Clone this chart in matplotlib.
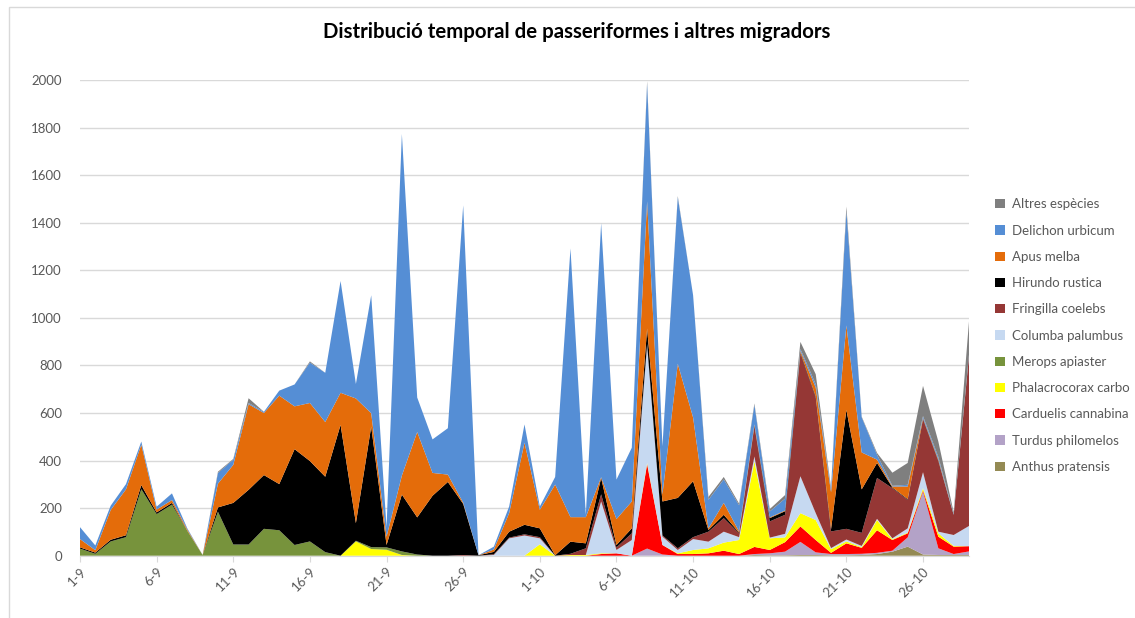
import numpy as np
import matplotlib
matplotlib.use("Agg")
import matplotlib.pyplot as plt
from matplotlib.patches import Patch, Rectangle

plt.rcParams["font.family"] = ["Lato", "DejaVu Sans"]

# dates 1-9 .. 29-10
dates = [f"{d}-9" for d in range(1, 31)] + [f"{d}-10" for d in range(1, 30)]

# bottom of the stack first
anthus = [0] * 44 + [3, 2, 2, 3, 3, 2, 2, 3, 7, 17, 38, 5, 3, 3, 3]
turdus = [0] * 37 + [30, 5, 0, 0, 0, 0, 0, 4, 8, 15, 55, 11, 5, 5, 5, 5, 4, 39, 265, 28, 4, 15]
carduelis = [0] * 34 + [7, 10, 0, 355, 40, 7, 7, 10, 21, 7, 30, 14, 40, 65, 52, 5, 45, 25, 95, 45, 17, 5, 49, 31, 22]
phalacrocorax = ([0] * 18 + [60, 28, 25, 3] + [0] * 8 +
                 [48, 0, 3, 3, 3, 0, 0, 5, 0, 3, 17, 21, 34, 59, 360, 49, 20, 56, 84, 15, 8, 3, 43, 3, 3, 9, 14, 3, 0])
merops = ([30, 8, 60, 78, 280, 175, 215, 105, 3, 185, 47, 47, 113, 107, 45, 60, 15, 0, 3, 8, 10, 15, 5] +
          [0] * 36)
columba = ([0] * 27 +
           [3, 73, 85, 25, 0, 0, 0, 218, 14, 66, 495, 35, 14, 46, 28, 46, 12, 20, 3, 15, 155, 29, 5, 8, 5, 5, 4, 18, 67, 7, 46, 85])
fringilla = ([0] * 25 +
             [3, 0, 3, 3, 5, 5, 0, 5, 28, 30, 11, 28, 5, 5, 7, 8, 42, 57, 16, 127, 68, 80, 515, 486, 70, 45, 55, 172, 211, 120, 222, 296, 85, 715])
hirundo = [5, 5, 7, 8, 17, 7, 7, 0, 0, 18, 175, 230, 226, 194, 403, 338, 317, 550, 74, 507, 10, 239, 156, 252, 310, 215,
           2, 10, 25, 40, 37, 2, 51, 21, 69, 10, 21, 65, 143, 212, 235, 7, 14, 3, 3, 14, 15, 5, 5, 10, 500, 183, 63, 3, 3, 3, 3, 0, 0]
apus = [35, 10, 125, 193, 170, 12, 12, 5, 0, 100, 160, 360, 261, 372, 180, 244, 230, 135, 524, 56, 35, 80, 359, 96, 31, 5,
        0, 10, 78, 345, 78, 297, 103, 110, 3, 109, 113, 535, 30, 564, 268, 7, 50, 5, 5, 3, 3, 7, 37, 155, 355, 155, 14, 4, 53, 3, 5, 0, 0]
delichon = [50, 20, 18, 22, 13, 12, 28, 5, 0, 45, 22, 5, 5, 21, 92, 170, 207, 470, 61, 496, 40, 1436, 145, 141, 195, 1250,
            0, 12, 28, 77, 14, 32, 1130, 10, 1068, 166, 226, 495, 202, 700, 514, 120, 99, 110, 82, 25, 50, 8, 14, 15, 480, 148, 21, 3, 7, 8, 10, 3, 5]
altres = ([0] * 9 + [5, 3, 20, 0, 0, 0, 5] + [0] * 21 +
          [10, 0, 5, 0, 12, 10, 7, 6, 10, 15, 30, 42, 5, 20, 3, 7, 55, 92, 127, 65, 7, 140])

names = ["Anthus pratensis", "Turdus philomelos", "Carduelis cannabina", "Phalacrocorax carbo",
         "Merops apiaster", "Columba palumbus", "Fringilla coelebs", "Hirundo rustica",
         "Apus melba", "Delichon urbicum", "Altres espècies"]
series = [anthus, turdus, carduelis, phalacrocorax, merops, columba, fringilla, hirundo, apus, delichon, altres]
colors = ["#948A54", "#B3A2C7", "#FF0000", "#FFFF00", "#77933C", "#C6D9F1",
          "#953735", "#000000", "#E46C0A", "#558ED5", "#7F7F7F"]

x = np.arange(len(dates))

fig = plt.figure(figsize=(11.35, 6.18), dpi=100)
ax = fig.add_axes([80 / 1135, 1 - 555.7 / 618, (969 - 80) / 1135, (555.7 - 80) / 618])

ax.stackplot(x, *series, colors=colors, labels=names, linewidth=0.3,
             edgecolor="none")

ax.set_xlim(0, len(dates) - 1)
ax.set_ylim(0, 2000)
ax.set_yticks(range(0, 2001, 200))
ax.set_xticks(x[::5])
ax.set_xticklabels(dates[::5], rotation=45, ha="right", rotation_mode="anchor")
ax.tick_params(axis="y", length=0, pad=13, labelsize=9.5, labelcolor="#595959")
ax.tick_params(axis="x", length=4, color="#D9D9D9", pad=3, labelsize=9.5, labelcolor="#595959")
ax.grid(axis="y", color="#D9D9D9", linewidth=1)
ax.set_axisbelow(True)
for s in ["left", "top", "right"]:
    ax.spines[s].set_visible(False)
ax.spines["bottom"].set_color("#D9D9D9")

fig.text(577 / 1135, 1 - 32 / 618, "Distribució temporal de passeriformes i altres migradors",
         ha="center", va="center", fontsize=14.7, fontweight="bold", color="black")

handles = [Patch(facecolor=c, edgecolor="none") for c in colors][::-1]
leg = fig.legend(handles, names[::-1], loc="upper left", bbox_to_anchor=(990 / 1135, 1 - 193 / 618),
                 frameon=False, fontsize=9.5, handlelength=0.7, handleheight=0.7,
                 handletextpad=0.6, labelspacing=1.08, borderaxespad=0)
for t in leg.get_texts():
    t.set_color("#595959")

# outer chart border
fig.patches.append(Rectangle((9 / 1135, -0.5), 2, 0.5 + 1 - 7 / 618, transform=fig.transFigure,
                             fill=False, edgecolor="#D9D9D9", linewidth=1))

fig.savefig("out.png", dpi=100)
